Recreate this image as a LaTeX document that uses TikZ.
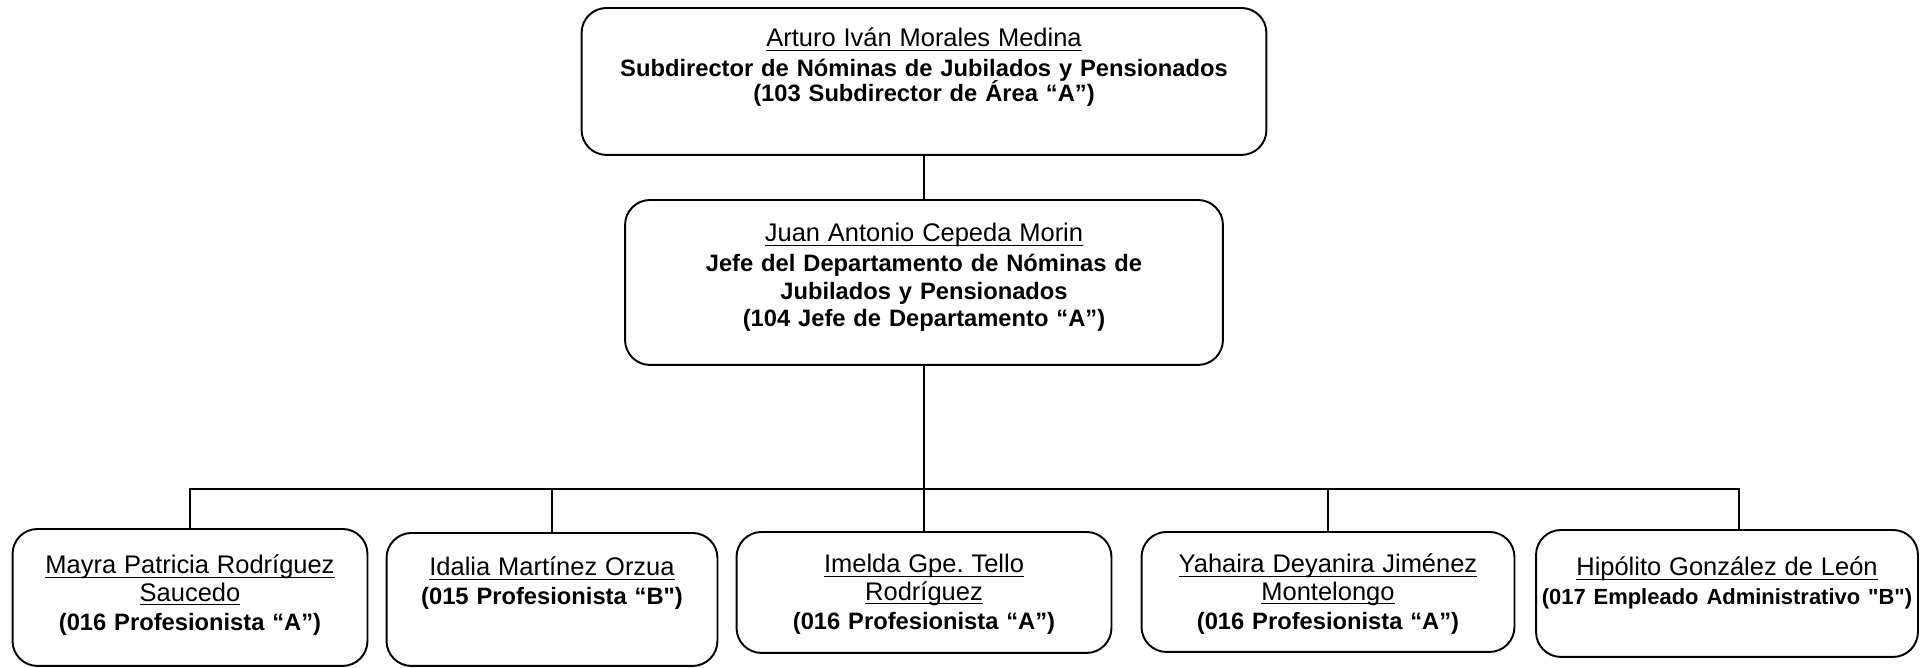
\documentclass[tikz,border=0pt]{standalone}
\usepackage{fontspec}
\setmainfont{Liberation Sans}[Ligatures=TeXOff]
\usepackage{tikz}
\frenchspacing
\newsavebox{\nombrebox}
\newcommand*{\nombre}[1]{\leavevmode{\mdseries\fontsize{14.5}{15.5}\selectfont\sbox{\nombrebox}{#1}\rlap{\rule[-2.4pt]{\wd\nombrebox}{0.7pt}}\usebox{\nombrebox}}}

\begin{document}
\begin{tikzpicture}[x=0.02cm, y=-0.02cm,
block_puesto/.style ={rectangle, draw=black, line width=1.1pt, rounded corners=0.5cm, fill=white, align=center, anchor=north, inner sep=0pt, font=\bfseries\fontsize{13.5}{15.5}\selectfont},
line/.style ={draw, line width=1.1pt}]
  \useasboundingbox (0,0) rectangle (1925,667);
  % subdireccion - row 1
    \node [block_puesto, text width=13.7cm, text height=0.78cm, text depth=2.16cm] (subdir) at (924,7)
      {\nombre{Arturo Iván Morales Medina}\\[1.5pt]
       Subdirector de Nóminas de Jubilados y Pensionados\\[-1.5pt]
       (103 Subdirector de Área “A”)};
  % departamento - row 2
    \node [block_puesto, text width=11.96cm, text height=0.84cm, text depth=2.46cm] (jefe) at (924,199)
      {\nombre{Juan Antonio Cepeda Morin}\\[1.5pt]
       Jefe del Departamento de Nóminas de\\
       Jubilados y Pensionados\\
       (104 Jefe de Departamento “A”)};
  % personal - row 3
    \node [block_puesto, text width=7.1cm, text height=0.9cm, text depth=1.84cm] (mayra) at (190,528)
      {\nombre{Mayra Patricia Rodríguez}\\
       \nombre{Saucedo}\\[1pt]
       (016 Profesionista “A”)};
    \node [block_puesto, text width=6.62cm, text height=0.86cm, text depth=1.8cm] (idalia) at (552,532)
      {\nombre{Idalia Martínez Orzua}\\[1pt]
       (015 Profesionista “B")};
    \node [block_puesto, text width=7.5cm, text height=0.82cm, text depth=1.6cm] (imelda) at (924,531)
      {\nombre{Imelda Gpe. Tello}\\
       \nombre{Rodríguez}\\[1pt]
       (016 Profesionista “A”)};
    \node [block_puesto, text width=7.46cm, text height=0.82cm, text depth=1.58cm] (yahaira) at (1328,531)
      {\nombre{Yahaira Deyanira Jiménez}\\
       \nombre{Montelongo}\\[1pt]
       (016 Profesionista “A”)};
    \node [block_puesto, text width=7.64cm, text height=0.92cm, text depth=1.62cm] (hipolito) at (1727,529)
      {\nombre{Hipólito González de León}\\[1pt]
       {\fontsize{12.5}{15.5}\selectfont (017 Empleado Administrativo "B")}};
    \coordinate (bus) at (924,489);
  % connecting nodes with paths
    \begin{scope}[every path/.style=line]
      \path (jefe.north) -- (jefe.north |- subdir.south);
      \path (jefe.south) -- (bus);
      \path (bus) -| (mayra.north);
      \path (bus) -| (idalia.north);
      \path (bus) -- (imelda.north);
      \path (bus) -| (yahaira.north);
      \path (bus) -| ([xshift=0.24cm]hipolito.north);
    \end{scope}
\end{tikzpicture}
\end{document}
